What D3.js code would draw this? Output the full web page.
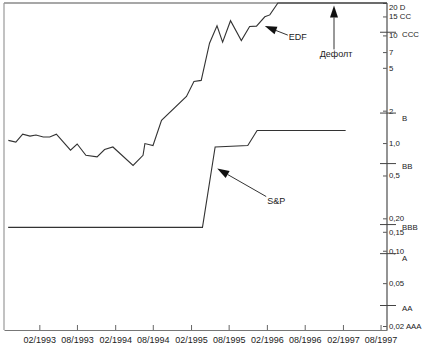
<!DOCTYPE html>
<html>
<head>
<meta charset="utf-8">
<script src="https://cdn.jsdelivr.net/npm/d3@7"></script>
<style>
  body { margin: 0; background: #fff; }
  text { font-family: "Liberation Sans", Arial, sans-serif; fill: #222; }
</style>
</head>
<body>
<script>
// Data
var edfDates = ["1992-09-05", "1992-10-11", "1992-11-13", "1992-12-18", "1993-01-16", "1993-02-20",
    "1993-03-23", "1993-04-24", "1993-07-01", "1993-08-02", "1993-09-13", "1993-11-06", "1993-12-12",
    "1994-01-21", "1994-04-28", "1994-06-15", "1994-06-24", "1994-08-02", "1994-09-12", "1995-01-10",
    "1995-02-15", "1995-03-22", "1995-05-01", "1995-06-06", "1995-07-03", "1995-08-10", "1995-10-01",
    "1995-11-10", "1995-12-13", "1996-01-22", "1996-02-15", "1996-03-25", "1997-09-01"];
var edfValues = [1.06, 1.02, 1.21, 1.16, 1.19, 1.14, 1.14, 1.21, 0.86, 0.98, 0.77, 0.745, 0.87,
    0.92, 0.62, 0.77, 0.99, 0.95, 1.63, 2.71, 3.74, 3.82, 8.47, 12.3, 8.65, 13.7, 8.95,
    12.1, 12.2, 14.9, 15.5, 20, 20];

var spDates = ["1992-09-04", "1995-03-28", "1995-05-28", "1995-11-01", "1995-12-16", "1997-02-14"];
var spValues = [0.165, 0.165, 0.92, 0.95, 1.31, 1.31];

var xTickDates = ["1993-02-01", "1993-08-01", "1994-02-01", "1994-08-01", "1995-02-01",
    "1995-08-01", "1996-02-01", "1996-08-01", "1997-02-01", "1997-08-01"];

var yTickValues = [20, 15, 10, 7, 5, 2, 1, 0.5, 0.2, 0.15, 0.1, 0.05, 0.02];
var yTickLabels = ["20", "15", "10", "7", "5", "2", "1,0", "0,5", "0,20", "0,15", "0,10", "0,05", "0,02"];

var ratingNames = ["D", "CC", "CCC", "B", "BB", "BBB", "A", "AA", "AAA"];
var ratingValues = [20, 15, 10.7, 1.9, 0.645, 0.175, 0.094, 0.031, 0.02];

// Chart params
var svgWidth = 423;
var svgHeight = 346;
var plotLeft = 4, plotRight = 387, plotTop = 3, plotBottom = 330;

var parse = d3.timeParse("%Y-%m-%d");

var svg = d3.select("body")
    .append("svg")
    .attr("width", svgWidth)
    .attr("height", svgHeight);

var xScale = d3.scaleTime()
    .domain([parse("1992-08-15"), parse("1997-09-01")])
    .range([plotLeft, plotRight]);

var yScale = d3.scaleLog()
    .domain([0.02, 20])
    .range([326, plotTop]);

// frame: top and left
svg.append("line")
    .attr("x1", plotLeft).attr("x2", plotRight)
    .attr("y1", plotTop).attr("y2", plotTop)
    .attr("stroke", "#8a8a8a").attr("stroke-width", 1.5);
svg.append("line")
    .attr("x1", plotLeft).attr("x2", plotLeft)
    .attr("y1", plotTop).attr("y2", plotBottom)
    .attr("stroke", "#999").attr("stroke-width", 1.2);

// bottom axis, ticks pointing up
var bottomAxis = d3.axisBottom(xScale)
    .tickValues(xTickDates.map(parse))
    .tickFormat(d3.timeFormat("%m/%Y"))
    .tickSizeInner(-5)
    .tickSizeOuter(0)
    .tickPadding(7);

var gx = svg.append("g")
    .attr("transform", `translate(0, ${plotBottom})`)
    .call(bottomAxis);
gx.select(".domain").attr("stroke", "#777").attr("stroke-width", 1.2);
gx.selectAll(".tick line").attr("stroke", "#666");
gx.selectAll("text").attr("font-size", 9).attr("font-family", "Liberation Sans, Arial, sans-serif").attr("fill", "#222");

// right axis (log), ticks pointing left
var rightAxis = d3.axisRight(yScale)
    .tickValues(yTickValues)
    .tickFormat(function (d, i) {
        var label = yTickLabels[i];
        var r = ratingValues.indexOf(d);
        if (r >= 0) label += " " + ratingNames[r];
        return label;
    })
    .tickSizeInner(-4)
    .tickSizeOuter(0)
    .tickPadding(2);

var gy = svg.append("g")
    .attr("transform", `translate(${plotRight}, 0)`)
    .call(rightAxis);
gy.select(".domain").remove();
gy.append("line")
    .attr("x1", 0).attr("x2", 0)
    .attr("y1", plotTop).attr("y2", plotBottom)
    .attr("stroke", "#666").attr("stroke-width", 1.4);
gy.selectAll(".tick line").attr("stroke", "#555");
gy.selectAll("text").attr("font-size", 7.8).attr("font-family", "Liberation Sans, Arial, sans-serif").attr("fill", "#222");
// keep the top label inside the picture
gy.selectAll(".tick text").filter(d => d === 20).attr("dy", "0.85em");

// rating marks which are not numeric ticks
var ratings = ratingNames.map(function (n, i) { return { name: n, value: ratingValues[i] }; })
    .filter(function (d) { return yTickValues.indexOf(d.value) < 0; });

svg.selectAll(".rating-line")
    .data(ratings)
    .enter()
    .append("line")
    .attr("class", "rating-line")
    .attr("x1", plotRight - 7).attr("x2", plotRight + 9)
    .attr("y1", d => yScale(d.value))
    .attr("y2", d => yScale(d.value))
    .attr("stroke", "#444").attr("stroke-width", 1);

// label sits below a numeric tick label when the two are very close
function ratingLabelY(v) {
    var y = yScale(v);
    var near = yTickValues.map(yScale).filter(t => t <= y && y - t < 5);
    return near.length ? near[0] + 10 : y + 5;
}

svg.selectAll(".rating-label")
    .data(ratings)
    .enter()
    .append("text")
    .attr("class", "rating-label")
    .attr("x", plotRight + 15)
    .attr("y", d => ratingLabelY(d.value))
    .attr("font-size", 7.8)
    .text(d => d.name);

// data lines
var line = d3.line()
    .x(d => xScale(d.date))
    .y(d => yScale(d.value));

var edf = edfDates.map(function (d, i) { return { date: parse(d), value: edfValues[i] }; });
var sp = spDates.map(function (d, i) { return { date: parse(d), value: spValues[i] }; });

svg.append("path")
    .datum(edf)
    .attr("d", line)
    .attr("fill", "none")
    .attr("stroke", "#333")
    .attr("stroke-width", 1.1);

svg.append("path")
    .datum(sp)
    .attr("d", line)
    .attr("fill", "none")
    .attr("stroke", "#333")
    .attr("stroke-width", 1.1);

// annotations: arrow tip at a date/value, tail and text offset in pixels
function arrow(tx, ty, ex, ey) {
    var ang = Math.atan2(ey - ty, ex - tx);
    var len = 12, half = 4;
    var bx = tx + len * Math.cos(ang), by = ty + len * Math.sin(ang);
    var px = -Math.sin(ang) * half, py = Math.cos(ang) * half;
    svg.append("line")
        .attr("x1", bx).attr("y1", by)
        .attr("x2", ex).attr("y2", ey)
        .attr("stroke", "#333").attr("stroke-width", 1);
    svg.append("path")
        .attr("d", `M${tx},${ty}L${bx + px},${by + py}L${bx - px},${by - py}Z`)
        .attr("fill", "#111");
}

var tx, ty;
// EDF
tx = xScale(parse("1996-01-22")); ty = yScale(12.2);
arrow(tx, ty, tx + 23, ty + 9);
svg.append("text").attr("x", tx + 24).attr("y", ty + 14).attr("font-size", 9).text("EDF");

// S&P
tx = xScale(parse("1995-06-07")); ty = yScale(0.58);
arrow(tx, ty, tx + 49, ty + 28);
svg.append("text").attr("x", tx + 50).attr("y", ty + 35).attr("font-size", 9).text("S&P");

// default
tx = xScale(parse("1996-12-20")); ty = yScale(19);
arrow(tx, ty, tx, ty + 44);
svg.append("text").attr("x", tx + 2).attr("y", ty + 52).attr("font-size", 9)
    .attr("text-anchor", "middle").text("Дефолт");
</script>
</body>
</html>
